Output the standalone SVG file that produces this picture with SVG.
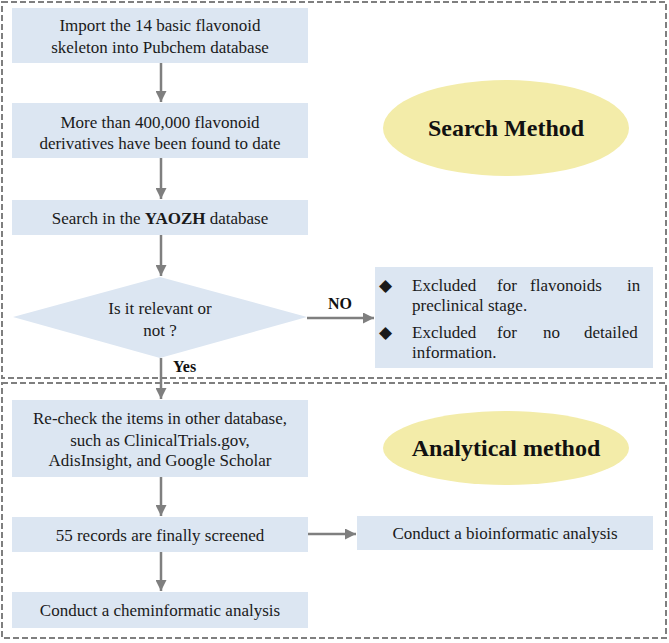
<svg xmlns="http://www.w3.org/2000/svg" width="669" height="643" viewBox="0 0 669 643">
<style>
.frame{fill:none;stroke:#7f7f7f;stroke-width:2;stroke-dasharray:6,3}
.box{fill:#dce6f2}
.ell{fill:#f3eca9}
.t{font-family:"Liberation Serif","Times New Roman",serif;font-size:17px;fill:#1a1a1a;text-anchor:middle}
.tl{font-family:"Liberation Serif","Times New Roman",serif;font-size:17px;fill:#1a1a1a}
.b{font-weight:bold}
.big{font-family:"Liberation Serif","Times New Roman",serif;font-size:24px;font-weight:bold;fill:#111;text-anchor:middle}
.lab{font-family:"Liberation Serif","Times New Roman",serif;font-size:16px;font-weight:bold;fill:#111}
.conn{stroke:#7f7f7f;stroke-width:2.5;fill:none}
</style>
<defs>
<marker id="ah" viewBox="0 0 10 10" refX="10" refY="5" markerWidth="4.4" markerHeight="4.4" markerUnits="strokeWidth" orient="auto">
<path d="M0,0 L10,5 L0,10 z" fill="#7f7f7f"/>
</marker>
</defs>
<rect class="frame" x="2" y="2" width="664" height="376"/>
<rect class="frame" x="2" y="383" width="664" height="255"/>

<g id="n1"><rect class="box" x="12" y="8" width="296" height="55"/>
<text class="t" x="160" y="31">Import the 14 basic flavonoid</text>
<text class="t" x="160" y="53">skeleton into Pubchem database</text></g>

<g id="n2"><rect class="box" x="12" y="103" width="296" height="55"/>
<text class="t" x="160" y="128">More than 400,000 flavonoid</text>
<text class="t" x="160" y="149">derivatives have been found to date</text></g>

<g id="sm"><ellipse class="ell" cx="506" cy="128" rx="123" ry="48"/>
<text class="big" x="506" y="136">Search Method</text></g>

<g id="n3"><rect class="box" x="12" y="200" width="296" height="35"/>
<text class="t" x="160" y="224">Search in the <tspan class="b">YAOZH</tspan> database</text></g>

<g id="d1"><polygon class="box" points="160,277 307,317 160,358 13,317"/>
<text class="t" x="160" y="314">Is it relevant or</text>
<text class="t" x="160" y="336">not ?</text></g>

<g id="ex"><rect class="box" x="375" y="267" width="278" height="101"/>
<text class="tl" y="291"><tspan x="379">◆</tspan><tspan x="412">Excluded</tspan><tspan x="497">for</tspan><tspan x="530">flavonoids</tspan><tspan x="627">in</tspan></text>
<text class="tl" x="412" y="311">preclinical stage.</text>
<text class="tl" y="338"><tspan x="379">◆</tspan><tspan x="412">Excluded</tspan><tspan x="497">for</tspan><tspan x="543">no</tspan><tspan x="584">detailed</tspan></text>
<text class="tl" x="412" y="358">information.</text></g>

<g id="n4"><rect class="box" x="12" y="400" width="296" height="77"/>
<text class="t" x="160" y="424">Re-check the items in other database,</text>
<text class="t" x="160" y="446">such as ClinicalTrials.gov,</text>
<text class="t" x="160" y="466">AdisInsight, and Google Scholar</text></g>

<g id="am"><ellipse class="ell" cx="506" cy="448" rx="123" ry="37"/>
<text class="big" x="506" y="456">Analytical method</text></g>

<g id="n5"><rect class="box" x="12" y="517" width="296" height="35"/>
<text class="t" x="160" y="541">55 records are finally screened</text></g>

<g id="n6"><rect class="box" x="12" y="592" width="296" height="36"/>
<text class="t" x="160" y="616">Conduct a cheminformatic analysis</text></g>

<g id="n7"><rect class="box" x="357" y="516" width="296" height="34"/>
<text class="t" x="505" y="539">Conduct a bioinformatic analysis</text></g>

<g id="connectors">
<line class="conn" x1="161" y1="63" x2="161" y2="102" marker-end="url(#ah)"/>
<line class="conn" x1="161" y1="158" x2="161" y2="199" marker-end="url(#ah)"/>
<line class="conn" x1="161" y1="235" x2="161" y2="276" marker-end="url(#ah)"/>
<line class="conn" x1="307" y1="318" x2="374" y2="318" marker-end="url(#ah)"/>
<line class="conn" x1="161" y1="358" x2="161" y2="399" marker-end="url(#ah)"/>
<line class="conn" x1="161" y1="477" x2="161" y2="516" marker-end="url(#ah)"/>
<line class="conn" x1="161" y1="552" x2="161" y2="591" marker-end="url(#ah)"/>
<line class="conn" x1="308" y1="534" x2="356" y2="534" marker-end="url(#ah)"/>
<text class="lab" x="328" y="309">NO</text>
<text class="lab" x="173" y="372">Yes</text>
</g>
</svg>
